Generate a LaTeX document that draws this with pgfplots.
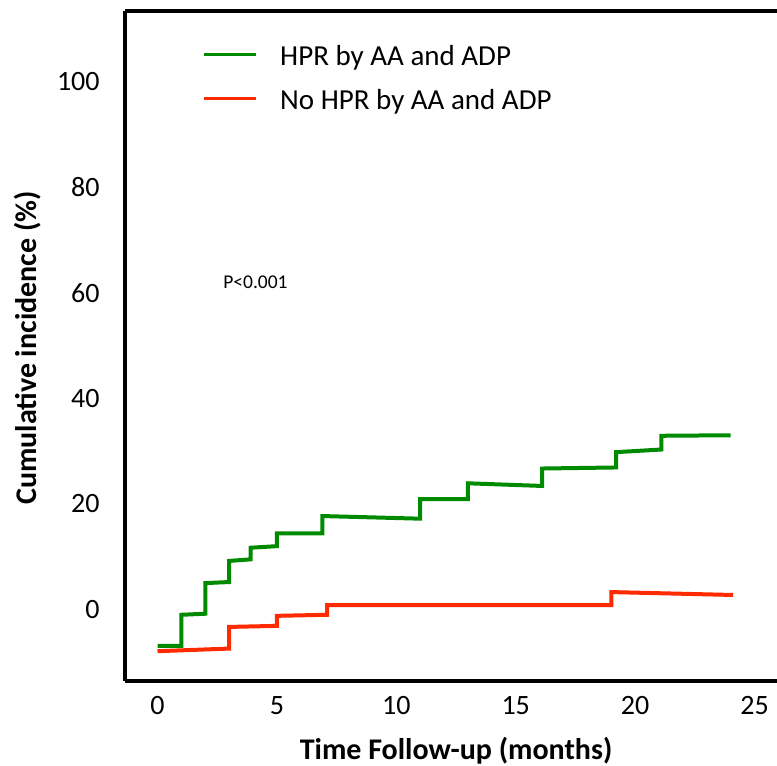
\documentclass[border=0pt]{standalone}
\usepackage{fontspec}
\setmainfont{Carlito}
\usepackage{pgfplots}
\pgfplotsset{compat=1.18}
\definecolor{hprgreen}{RGB}{0,138,0}
\definecolor{hprred}{RGB}{255,42,0}
\begin{document}
\begin{tikzpicture}
\useasboundingbox (0,0) rectangle (388.5pt,383pt);
\begin{axis}[
  at={(62.5pt,42.5pt)}, anchor=south west,
  scale only axis, width=326pt, height=335pt,
  xmin=-1.361, xmax=25.94, ymin=-13.54, ymax=113.35,
  axis x line*=box, axis y line*=left,
  axis line style={line width=1.6pt, black},
  xtick={0,5,10,15,20,25}, ytick={0,20,40,60,80,100},
  major tick length=0pt, tick style={draw=none},
  /pgf/number format/assume math mode=true,
  ticklabel style={font=\fontsize{14}{16}\selectfont, inner sep=0pt},
  yticklabel style={anchor=east, xshift=-12.5pt},
  xticklabel style={anchor=north, yshift=-7.5pt},
  xlabel={Time Follow-up (months)},
  ylabel={Cumulative incidence (\%)},
  label style={font=\bfseries\fontsize{15}{17}\selectfont, inner sep=0pt},
  xlabel style={at={(axis description cs:0.5077,-0.1172)}, anchor=base},
  ylabel style={at={(axis description cs:-0.135,0.497)}, anchor=base, rotate=0},
  clip=false,
  legend style={at={(axis description cs:0.118,0.9512)}, anchor=north west,
    draw=none, fill=none, inner sep=0pt, outer sep=0pt, row sep=7.65pt,
    font=\fontsize{14.5}{17}\selectfont,
    nodes={inner sep=0pt, text height=11pt, text depth=3.5pt},
    /tikz/every odd column/.append style={column sep=11.5pt}},
  legend cell align=left,
  legend image code/.code={\draw[#1, line width=1.65pt] (0pt,2pt) -- (26pt,2pt);},
]
\addplot[hprgreen, line width=2pt, line join=miter] coordinates {
  (0,-6.9) (1,-6.9) (1,-1.0) (2,-0.8) (2,5.0) (3,5.2) (3,9.2) (3.9,9.5)
  (3.9,11.7) (5,12.0) (5,14.4) (6.9,14.4) (6.9,17.7) (11,17.2) (11,20.9)
  (13,20.9) (13,23.9) (16.1,23.4) (16.1,26.7) (19.2,26.9) (19.2,29.8)
  (21.1,30.3) (21.1,32.9) (24,33.0)};
\addlegendentry{HPR by AA and ADP}
\addplot[hprred, line width=2pt, line join=miter] coordinates {
  (0,-7.9) (3,-7.4) (3,-3.3) (5,-3.1) (5,-1.2) (7.1,-1.0) (7.1,0.85)
  (19,0.85) (19,3.3) (24.1,2.75)};
\addlegendentry{No HPR by AA and ADP}
\node[anchor=west, inner sep=0pt, font=\fontsize{9.75}{12}\selectfont] at (axis cs:2.74,62.0) {P<0.001};
\end{axis}
\end{tikzpicture}
\end{document}
